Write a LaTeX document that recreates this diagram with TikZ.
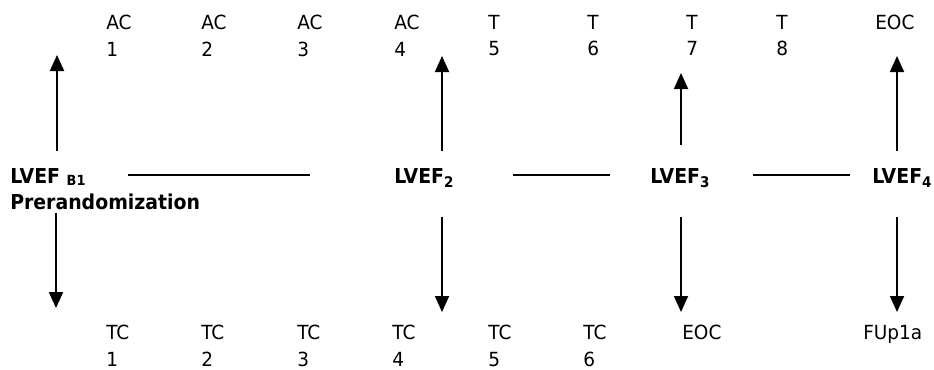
\documentclass[tikz,border=0pt]{standalone}
\usepackage{fontspec}
\setmainfont{DejaVu Sans}[FakeStretch=0.95]
\newfontfamily\lbf{DejaVu Sans}[FakeStretch=0.92]
\usetikzlibrary{arrows.meta}
\newcommand\sbs[3]{\raisebox{-#1}{\fontsize{#2}{#2}\selectfont #3}}
\begin{document}
\begin{tikzpicture}[x=0.75pt,y=-0.75pt,
  lab/.style={anchor=north west,inner sep=0pt,align=left,font=\fontsize{14.6}{19.9}\selectfont},
  blab/.style={anchor=north west,inner sep=0pt,align=left,font=\lbf\bfseries\fontsize{15.4}{19.5}\selectfont},
  arr/.style={line width=1.4pt,-{Triangle[length=12pt,width=10.5pt]}},
  hline/.style={line width=1.1pt}]
\useasboundingbox (0,0) rectangle (934,369);
% top row
\node[lab] (ac1) at (106,15) {AC\\1};
\node[lab] (ac2) at (201,15) {AC\\2};
\node[lab] (ac3) at (297,15) {AC\\3};
\node[lab] (ac4) at (394,15) {AC\\4};
\node[lab] (t5) at (488,15) {T\\5};
\node[lab] (t6) at (587,15) {T\\6};
\node[lab] (t7) at (686,15) {T\\7};
\node[lab] (t8) at (776,15) {T\\8};
\node[lab] (teoc) at (875,15) {EOC};
% middle row
\node[blab] (lv1) at (10,168) {LVEF \sbs{1.5pt}{10.5}{B1}\\Prerandomization};
\node[blab] (lv2) at (394,168) {LVEF\sbs{3pt}{11}{2}};
\node[blab] (lv3) at (650,168) {LVEF\sbs{3pt}{11}{3}};
\node[blab] (lv4) at (872,168) {LVEF\sbs{3pt}{11}{4}};
% bottom row
\node[lab] (tc1) at (106,325) {TC\\1};
\node[lab] (tc2) at (201,325) {TC\\2};
\node[lab] (tc3) at (297,325) {TC\\3};
\node[lab] (tc4) at (392,325) {TC\\4};
\node[lab] (tc5) at (488,325) {TC\\5};
\node[lab] (tc6) at (583,325) {TC\\6};
\node[lab] (beoc) at (682,325) {EOC};
\node[lab] (fup) at (863,325) {FUp1a};
% arrow end points
\coordinate (u1s) at (57,151); \coordinate (u1e) at (57,55);
\coordinate (d1s) at (56,213); \coordinate (d1e) at (56,308);
\coordinate (u2s) at (442,151); \coordinate (u2e) at (442,56);
\coordinate (d2s) at (442,217); \coordinate (d2e) at (442,312);
\coordinate (u3s) at (681,145); \coordinate (u3e) at (681,73);
\coordinate (d3s) at (681,217); \coordinate (d3e) at (681,312);
\coordinate (u4s) at (897,151); \coordinate (u4e) at (897,56);
\coordinate (d4s) at (897,217); \coordinate (d4e) at (897,312);
\foreach \i in {1,2,3,4}{
  \draw[arr] (u\i s) -- (u\i e);
  \draw[arr] (d\i s) -- (d\i e);
}
% horizontal lines
\coordinate (h1a) at (128,175); \coordinate (h1b) at (310,175);
\coordinate (h2a) at (513,175); \coordinate (h2b) at (610,175);
\coordinate (h3a) at (753,175); \coordinate (h3b) at (850,175);
\draw[hline] (h1a) -- (h1b);
\draw[hline] (h2a) -- (h2b);
\draw[hline] (h3a) -- (h3b);
\end{tikzpicture}
\end{document}
